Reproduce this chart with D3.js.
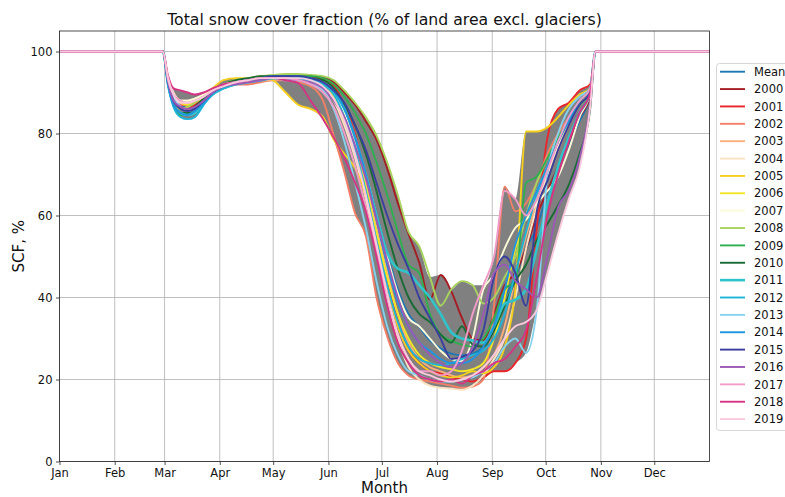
<!DOCTYPE html>
<html>
<head>
<meta charset="utf-8">
<script src="https://cdn.jsdelivr.net/npm/d3@7/dist/d3.min.js"></script>
<style>
  html, body { margin: 0; padding: 0; background: #fff; }
  svg { display: block; font-family: "DejaVu Sans", sans-serif; }
</style>
</head>
<body>
<svg id="chart" width="785" height="497"></svg>
<script>
// Day of year for each sample
const days = [0, 58, 61, 64, 68, 72, 76, 81, 86, 92, 99, 106, 113, 120, 127, 134, 141, 148, 154,
  160, 166, 172, 178, 184, 190, 196, 202, 208, 214, 220, 226, 232, 238, 244,
  250, 256, 262, 268, 274, 280, 286, 292, 298, 301, 365];

// Month ticks (day of year where each month starts)
const monthDays = [0, 31, 59, 90, 120, 151, 181, 212, 243, 273, 304, 334];
const monthLabels = ["Jan", "Feb", "Mar", "Apr", "May", "Jun", "Jul", "Aug", "Sep", "Oct", "Nov", "Dec"];
const yTicks = [0, 20, 40, 60, 80, 100];

// Snow cover fraction, % — one array per season
const scfMean = [100,100, 93,88.5,86.5,86.3,87,88.5,90.2,91.6,92.5, 92.9,93.4,93.6,93.5,93.3,92.7,91.3,88.4, 83.7,77.7,70,60.5,50.7,42,36,32.8, 29.5,27.6,26.3,25.9,26.3,28,32.9, 40,45,52,57,65.6,72,77.5,83,89.5, 100,100];
const scf2000 = [100,100, 93,89,87,87,88,89,90,92,92.5, 93,93.5,94,94,94.2,94,93.5,92.5, 90,87,83,78.5,71.5,63,55.5,48.5, 39.5,45.5,41.5,35,30,29.5,36, 43,46,52,60,66,72,78,84,89, 100,100];
const scf2001 = [100,100, 93,88.5,86,86,87,88.5,90,91,92, 92,93,93.5,94,94,93.5,93,91.5, 87,80,69,56,44,34,27,24, 22,21.5,20.5,20,19.5,20.5,22, 22,24,30,57,79,86,87.5,90.5,92, 100,100];
const scf2002 = [100,100, 93,89,87,87,88,89,90,91.5,92, 92,92.5,93,93,92.5,91.5,88,79.5, 70.5,60.5,55,40,30.5,24,21,20, 19.5,19,18.5,18,18.3,20,38, 67,61,63,68,75,80,84,88,91, 100,100];
const scf2003 = [100,100, 93,89.5,88,87.5,88,89,90,91,92, 92.5,93,93,93.5,93.5,93,92,89.5, 84,77,68,57,46,36,29,25, 23,22,21,20.5,21,23,26, 33,45,55,63,70,76,82,87,90, 100,100];
const scf2004 = [100,100, 93.5,90,88,88,88.5,89.5,90.5,91.5,92.5, 92.5,93,93.5,93.5,93,92.5,91,88, 82,74,64,52,40,30,23,20, 18.5,18,17.8,17.5,18.5,21,25, 30,40,52,62,70,77,83,88,91, 100,100];
const scf2005 = [100,100, 92.5,88,86,86.5,87.5,89,91,93,93.5, 93.5,94,93,90,87,86,84,78.5, 75,71.5,65,55,43,33,27,24, 22,21,20.5,21,22,21.5,23, 28,42,80.5,80.5,81.5,84,87,89.5,91, 100,100];
const scf2006 = [100,100, 93,89,87.5,87,88,89.5,91,92,93, 93,93.5,93.5,93.5,93.5,93,92,89, 83,76,67,56,45,36,30,26, 24,23,22.5,22,22.5,24,30, 40,52,60,66,72,78,83,88,91, 100,100];
const scf2007 = [100,100, 93,89.5,88,88,88.5,89.5,90.5,91.5,92.5, 93,93.5,93.5,93.5,93.5,93,92,90, 85,78,70,60,50,41,35,33, 30,27,25,24.5,30,42,45.5, 52,57,59,63,66,69.5,76,84,90, 100,100];
const scf2008 = [100,100, 92,88,86,86.5,87.5,89,90.5,92,93, 93.5,94,94.3,94.5,94.5,94.3,94,93, 90.5,87.5,84,79.5,73,65,56,52.5, 45,38,42,44,43,38.5,40, 45,50,60,68,74,79,83,87,90, 100,100];
const scf2009 = [100,100, 92,87,84.5,84.5,86,88.5,90,91.5,92.5, 93,93.5,94,94,94,94,93.5,92, 89,85,80,73,65,56,48,46, 36,31,29.5,28.5,28,30,35, 42,44,68,69.5,74,79,83,87,90, 100,100];
const scf2010 = [100,100, 92.5,87.5,85,85,86.5,88.5,90.5,92,93, 93.5,94,94,94,94,93.5,93,91, 87,82,75,66,56,47,40,36, 34,31,29,33,28.5,28,32, 38,44,48,54,58,62.5,67.5,75,86, 100,100];
const scf2011 = [100,100, 92,87,85,84.5,85,87.5,89.5,91,92, 92.5,93,93.5,93.5,93.5,93,92,90, 86,79,70,60,51,47,46,43, 40,36,31.5,30,29.5,29,33, 38.5,39.5,42,52,63,72,79,85,90, 100,100];
const scf2012 = [100,100, 91.5,86.5,84,83.5,84,87,89.5,91,92, 92.5,93,93.5,93.5,93.5,93,92,89.5, 84,76,66,54,43,34,28,25, 24,23.5,24,25,26,27,30, 36,46,56,65,72,78,84,88,91, 100,100];
const scf2013 = [100,100, 93,89,86.5,85.5,86,88,90,91.5,92.5, 93,93.5,93.5,93,93,92,90.5,86, 78,68,57,44,33,26,22,21, 20,19.5,19.5,20,20.5,22,24, 28,30,26.5,37,70,80,86,89,91, 100,100];
const scf2014 = [100,100, 92,87,85,84.5,85.5,87.5,90,91.5,92.5, 93,93.5,94,94,94,93.5,92.5,90.5, 86,79,70,59,48,39,33,29, 27,25,24,24,25,28,33, 42,53,60,66,72,78,83,88,91, 100,100];
const scf2015 = [100,100, 92.5,88,86,85.5,86,88,90,91.5,92.5, 93,93.5,94,94,94,93.5,92.5,90.5, 87.5,82,76,68,60,53,47,40, 35,30,25,25.5,27,32,45, 50,46,38,61,68.5,76,82,87,90, 100,100];
const scf2016 = [100,100, 92.5,88,86.5,86,86.5,88,90,91.5,92, 92.5,93,93.5,93.5,93,92.5,91,88, 84,77,69,59,49,40,33,29, 26,24,23,24,28,36,46, 48,44,42,40,50,62,66,74,87, 100,100];
const scf2017 = [100,100, 93,89.5,88,87.5,88,89,90.5,92,92.5, 93,93.5,93.5,93.5,93,92,90,86.5, 80,72,62,51,40,31,25,22, 22,21,22,27,36,43,50, 66,64,60,64,71,78,84,88,91, 100,100];
const scf2018 = [100,100, 94,91,90.5,90,89.5,90,91,92,92.5, 93,93.5,93.5,93,92.3,88,83.5,79, 74,68,61,50,38,29,24,21, 20,19.5,20,19,21,22,24, 25,28,32,45,60,70,78,85,90, 100,100];
const scf2019 = [100,100, 93.5,89.5,87.5,87.5,88,89,90.5,91.5,92.5, 93,93.5,93.5,93.5,93.5,93,91.5,88.5, 83,75,65,53,41,31,25,22, 21,20,19.5,20,21,23,26, 30,33,34,37,46,55.5,64,71.5,86.5, 100,100];

const yearNames = ["2000","2001","2002","2003","2004","2005","2006","2007","2008","2009",
  "2010","2011","2012","2013","2014","2015","2016","2017","2018","2019"];
const yearValues = [scf2000, scf2001, scf2002, scf2003, scf2004, scf2005, scf2006, scf2007, scf2008, scf2009,
  scf2010, scf2011, scf2012, scf2013, scf2014, scf2015, scf2016, scf2017, scf2018, scf2019];

// Line colours
const meanColor = "#1f77b4";
const yearColors = ["#a51d24", "#e8262b", "#f47f66", "#fbb07c", "#fde3c3", "#f5cf1d", "#f2e626", "#fbfbd9",
  "#a8d45d", "#2fae4f", "#196b35", "#2ec4c9", "#1fb3d7", "#85d2ef", "#1f94e0", "#3a3f9e",
  "#9b59b6", "#f19cc8", "#d63384", "#fbc9dd"];

const svg = d3.select("#chart");
const plot = { left: 59.5, right: 709.5, top: 31, bottom: 461.5 };

const x = d3.scaleLinear().domain([0, 365]).range([plot.left, plot.right]);
const y = d3.scaleLinear().domain([0, 105]).range([plot.bottom, plot.top]);

// Grid lines
const grid = svg.append("g");
grid.selectAll("line.vx").data(monthDays).join("line")
  .attr("x1", d => x(d)).attr("x2", d => x(d))
  .attr("y1", plot.top).attr("y2", plot.bottom)
  .attr("stroke", "#b0b0b0").attr("stroke-width", 0.8);
grid.selectAll("line.hy").data(yTicks).join("line")
  .attr("x1", plot.left).attr("x2", plot.right)
  .attr("y1", d => y(d)).attr("y2", d => y(d))
  .attr("stroke", "#b0b0b0").attr("stroke-width", 0.8);

svg.append("clipPath").attr("id", "clip").append("rect")
  .attr("x", plot.left).attr("y", plot.top)
  .attr("width", plot.right - plot.left).attr("height", plot.bottom - plot.top);

const g = svg.append("g").attr("clip-path", "url(#clip)");

// Spread between the lowest and highest season on each day
const band = days.map((d, i) => ({
  d,
  lo: d3.min(yearValues, s => s[i]),
  hi: d3.max(yearValues, s => s[i])
}));
g.append("path").datum(band)
  .attr("fill", "#808080")
  .attr("d", d3.area().x(p => x(p.d)).y0(p => y(p.lo)).y1(p => y(p.hi)).curve(d3.curveMonotoneX));

const line = d3.line().x(p => x(p[0])).y(p => y(p[1])).curve(d3.curveMonotoneX);

g.append("path").datum(days.map((d, i) => [d, scfMean[i]]))
  .attr("fill", "none").attr("stroke", meanColor).attr("stroke-width", 1.9)
  .attr("stroke-linejoin", "round").attr("d", line);

yearValues.forEach((vals, k) => {
  g.append("path").datum(days.map((d, i) => [d, vals[i]]))
    .attr("fill", "none").attr("stroke", yearColors[k])
    .attr("stroke-width", yearNames[k] === "2011" ? 2.6 : 1.9)
    .attr("stroke-linejoin", "round").attr("d", line);
});

// Axes
const xAxis = d3.axisBottom(x).tickValues(monthDays)
  .tickFormat((d, i) => monthLabels[i]).tickSize(3.5).tickPadding(3.5);
const yAxis = d3.axisLeft(y).tickValues(yTicks).tickSize(3.5).tickPadding(3.5);

const gx = svg.append("g").attr("transform", `translate(0,${plot.bottom})`).call(xAxis);
const gy = svg.append("g").attr("transform", `translate(${plot.left},0)`).call(yAxis);
[gx, gy].forEach(a => {
  a.select(".domain").remove();
  a.selectAll("line").attr("stroke", "#222").attr("stroke-width", 0.8);
  a.selectAll("text").attr("fill", "#111").style("font-size", "11.5px")
    .style("font-family", "DejaVu Sans, sans-serif");
});

// Frame
svg.append("rect").attr("x", plot.left).attr("y", plot.top)
  .attr("width", plot.right - plot.left).attr("height", plot.bottom - plot.top)
  .attr("fill", "none").attr("stroke", "#222").attr("stroke-width", 0.8);

// Titles
svg.append("text").attr("x", (plot.left + plot.right) / 2).attr("y", 25)
  .attr("text-anchor", "middle").style("font-size", "15.7px").attr("fill", "#111")
  .text("Total snow cover fraction (% of land area excl. glaciers)");
svg.append("text").attr("x", (plot.left + plot.right) / 2).attr("y", 492.5)
  .attr("text-anchor", "middle").style("font-size", "15px").attr("fill", "#111")
  .text("Month");
svg.append("text").attr("transform", `translate(24,${(plot.top + plot.bottom) / 2}) rotate(-90)`)
  .attr("text-anchor", "middle").style("font-size", "15px").attr("fill", "#111")
  .text("SCF, %");

// Legend
const legendNames = ["Mean"].concat(yearNames);
const legendColors = [meanColor].concat(yearColors);
const lg = svg.append("g");
lg.append("rect").attr("x", 716.5).attr("y", 63.5).attr("width", 80).attr("height", 367)
  .attr("rx", 3).attr("fill", "#fff").attr("fill-opacity", 0.8)
  .attr("stroke", "#cccccc").attr("stroke-width", 0.8);
legendNames.forEach((name, i) => {
  const yy = 71.7 + i * 17.37;
  lg.append("line").attr("x1", 720).attr("x2", 745).attr("y1", yy).attr("y2", yy)
    .attr("stroke", legendColors[i]).attr("stroke-width", name === "2011" ? 2.6 : 1.9);
  lg.append("text").attr("x", 754).attr("y", yy + 4.2)
    .style("font-size", "11.5px").attr("fill", "#111").text(name);
});
</script>
</body>
</html>
